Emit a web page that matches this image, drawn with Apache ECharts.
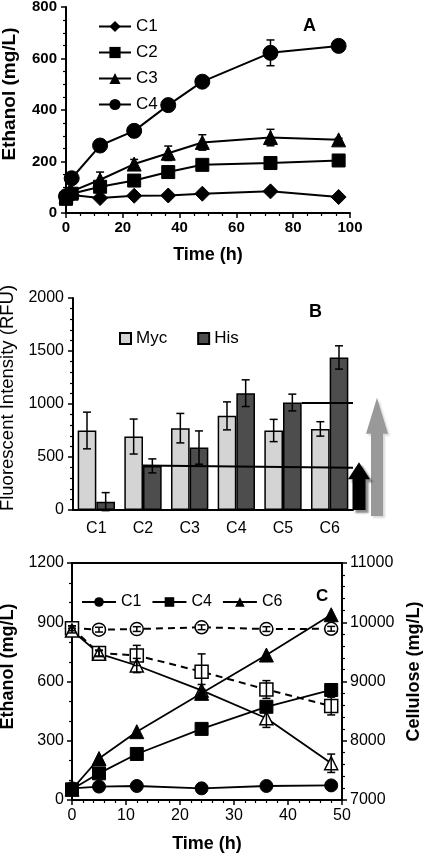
<!DOCTYPE html>
<html><head><meta charset="utf-8">
<script src="https://cdn.jsdelivr.net/npm/echarts@6/dist/echarts.min.js"></script>
<style>html,body{margin:0;padding:0;background:#fff}#c{width:425px;height:855px}</style>
</head><body><div id="c"></div>
<script>
// ---------- Panel A data ----------
const timeA = [0, 2, 12, 24, 36, 48, 72, 96];
const aC1 = [65, 70, 58, 67, 68, 75, 84, 62];
const aC2 = [55, 75, 102, 126, 159, 187, 194, 204];
const aC3 = [65, 84, 129, 190, 232, 274, 293, 284];
const aC4 = [65, 135, 262, 319, 419, 510, 622, 649];
const aC1err = [0, 3, 5, 5, 5, 5, 6, 5];
const aC2err = [0, 5, 10, 8, 8, 8, 8, 6];
const aC3err = [0, 10, 30, 18, 28, 30, 32, 6];
const aC4err = [0, 18, 22, 22, 20, 15, 50, 6];
// ---------- Panel B data ----------
const catsB = ['C1', 'C2', 'C3', 'C4', 'C5', 'C6'];
const myc = [750, 693, 772, 888, 750, 765];
const mycErr = [173, 165, 139, 132, 105, 68];
const his = [79, 416, 589, 1102, 1014, 1439];
const hisErr = [85, 66, 157, 126, 79, 110];
const refLineVals = [[420, 398], [1010, 1010]];
const arrowTips = [450, 1060];
// ---------- Panel C data ----------
const timeC = [0, 5, 12, 24, 36, 48];
const ethC1 = [59, 68, 71, 59, 71, 74];
const ethC4 = [54, 135, 233, 360, 472, 557];
const ethC6 = [54, 210, 346, 540, 734, 938];
const celC1 = [9900, 9875, 9885, 9915, 9885, 9890];
const celC4 = [9900, 9480, 9440, 9166, 8865, 8586];
const celC6 = [9860, 9470, 9270, 8850, 8380, 7620];
const celC1err = [40, 40, 40, 40, 40, 40];
const celC4err = [40, 50, 170, 300, 150, 150];
const celC6err = [40, 50, 120, 100, 155, 155];

const FF = 'Liberation Sans, Arial, sans-serif';
const pairs = (xs, ys) => xs.map((x, i) => [x, ys[i]]);
const errData = (xs, ys, es, side) => xs.map((x, i) => [x, ys[i] - es[i], ys[i] + es[i], side || 0]);
const plain = v => String(v);

function errItem(params, api) {
  const x = api.value(0), lo = api.value(1), hi = api.value(2), side = api.value(3) || 0;
  let off = 0;
  if (side) off = side * api.size([1, 0])[0] * 0.2;
  const a = api.coord([x, hi]), b = api.coord([x, lo]);
  const cx = a[0] + off, hw = 4;
  const st = { stroke: '#000', lineWidth: 1.5 };
  return { type: 'group', children: [
    { type: 'line', shape: { x1: cx, y1: a[1], x2: cx, y2: b[1] }, style: st },
    { type: 'line', shape: { x1: cx - hw, y1: a[1], x2: cx + hw, y2: a[1] }, style: st },
    { type: 'line', shape: { x1: cx - hw, y1: b[1], x2: cx + hw, y2: b[1] }, style: st }
  ] };
}

const axLine = { show: true, lineStyle: { color: '#000', width: 2 } };
const tick = { show: true, length: 5, lineStyle: { color: '#000', width: 1.5 } };
const mtick = (n) => ({ show: true, splitNumber: n, length: 3, lineStyle: { color: '#000', width: 1.2 } });

function lineSeries(name, xi, yi, data, symbol, size, opts) {
  return Object.assign({
    type: 'line', name: name, xAxisIndex: xi, yAxisIndex: yi, data: data,
    symbol: symbol, symbolSize: size, showSymbol: true,
    lineStyle: { color: '#000', width: 2 },
    itemStyle: { color: '#000', borderColor: '#000' }, z: 3, animation: false
  }, opts || {});
}
function errSeries(xi, yi, data) {
  return { type: 'custom', xAxisIndex: xi, yAxisIndex: yi, data: data, renderItem: errItem,
    encode: { x: 0, y: [1, 2] }, z: 4, silent: true, animation: false };
}

const openStyle = { color: '#fff', borderColor: '#000', borderWidth: 1.5 };
const gridBase = { containLabel: false, outerBoundsMode: 'none' };

const option = {
  animation: false,
  textStyle: { fontFamily: FF },
  title: [
    { text: 'A', left: 298, top: 12, textStyle: { fontFamily: FF, fontWeight: 'bold', fontSize: 18, color: '#000' } },
    { text: 'B', left: 304, top: 298, textStyle: { fontFamily: FF, fontWeight: 'bold', fontSize: 18, color: '#000' } },
    { text: 'C', left: 311, top: 583, textStyle: { fontFamily: FF, fontWeight: 'bold', fontSize: 17, color: '#000' } }
  ],
  legend: [
    { data: ['A-C1', 'A-C2', 'A-C3', 'A-C4'], orient: 'vertical', left: 93, top: 13, itemWidth: 32, itemHeight: 14, itemGap: 9,
      formatter: n => n.split('-')[1], textStyle: { fontFamily: FF, fontSize: 17, color: '#000', lineHeight: 17 } },
    { data: ['Myc', 'His'], left: 114, top: 325, icon: 'rect', itemWidth: 11, itemHeight: 11, itemGap: 30,
      textStyle: { fontFamily: FF, fontSize: 17, color: '#000' } },
    { data: ['C-C1', 'C-C4', 'C-C6'], left: 76, top: 589, itemWidth: 34, itemHeight: 12, itemGap: 10,
      formatter: n => n.split('-')[1], textStyle: { fontFamily: FF, fontSize: 16, color: '#000' } }
  ],
  grid: [
    Object.assign({ left: 66, top: 7, width: 284, height: 206 }, gridBase),
    Object.assign({ left: 73, top: 298, width: 280, height: 212 }, gridBase),
    Object.assign({ left: 72, top: 563, width: 270, height: 237, show: true, borderColor: '#000', borderWidth: 2, backgroundColor: 'transparent' }, gridBase)
  ],
  xAxis: [
    { type: 'value', gridIndex: 0, min: 0, max: 100, interval: 20, axisLine: axLine, axisTick: tick, minorTick: mtick(4),
      splitLine: { show: false }, axisLabel: { color: '#000', fontSize: 15, fontWeight: 'bold', margin: 7, fontFamily: FF, formatter: plain },
      name: 'Time (h)', nameLocation: 'middle', nameGap: 33, nameTextStyle: { color: '#000', fontSize: 18, fontWeight: 'bold', fontFamily: FF } },
    { type: 'category', gridIndex: 1, data: catsB, axisLine: axLine, axisTick: { show: false },
      axisLabel: { color: '#000', fontSize: 16, margin: 11, fontFamily: FF } },
    { type: 'value', gridIndex: 2, min: 0, max: 50, interval: 10, axisLine: axLine, axisTick: tick, minorTick: mtick(5),
      splitLine: { show: false }, axisLabel: { color: '#000', fontSize: 16, margin: 8, fontFamily: FF, formatter: plain },
      name: 'Time (h)', nameLocation: 'middle', nameGap: 35, nameTextStyle: { color: '#000', fontSize: 18, fontWeight: 'bold', fontFamily: FF } }
  ],
  yAxis: [
    { type: 'value', gridIndex: 0, min: 0, max: 800, interval: 200, axisLine: axLine, axisTick: tick, minorTick: mtick(4),
      splitLine: { show: false }, axisLabel: { color: '#000', fontSize: 15, fontWeight: 'bold', margin: 9, fontFamily: FF, formatter: plain },
      name: 'Ethanol (mg/L)', nameLocation: 'middle', nameGap: 47, nameRotate: 90,
      nameTextStyle: { color: '#000', fontSize: 19, fontWeight: 'bold', fontFamily: FF, padding: [0, 0, 0, 32] } },
    { type: 'value', gridIndex: 1, min: 0, max: 2000, interval: 500, axisLine: axLine, axisTick: tick, minorTick: mtick(5),
      splitLine: { show: false }, axisLabel: { color: '#000', fontSize: 16, margin: 9, fontFamily: FF, formatter: plain },
      name: 'Fluorescent Intensity (RFU)', nameLocation: 'middle', nameGap: 52, nameRotate: 90,
      nameTextStyle: { color: '#000', fontSize: 18.5, fontFamily: FF, padding: [0, 0, 0, 12] } },
    { type: 'value', gridIndex: 2, min: 0, max: 1200, interval: 300, axisLine: axLine, axisTick: tick, minorTick: mtick(3),
      splitLine: { show: false }, axisLabel: { color: '#000', fontSize: 16, margin: 8, fontFamily: FF, formatter: plain },
      name: 'Ethanol (mg/L)', nameLocation: 'middle', nameGap: 52, nameRotate: 90,
      nameTextStyle: { color: '#000', fontSize: 18, fontWeight: 'bold', fontFamily: FF, padding: [0, 0, 0, 30] } },
    { type: 'value', gridIndex: 2, position: 'right', min: 7000, max: 11000, interval: 1000, axisLine: axLine, axisTick: tick, minorTick: mtick(5),
      splitLine: { show: false }, axisLabel: { color: '#000', fontSize: 16, margin: 8, fontFamily: FF, formatter: plain },
      name: 'Cellulose (mg/L)', nameLocation: 'middle', nameGap: 62, nameRotate: 90,
      nameTextStyle: { color: '#000', fontSize: 18, fontWeight: 'bold', fontFamily: FF, padding: [0, 0, 0, 20] } }
  ],
  series: [
    // Panel A
    errSeries(0, 0, errData(timeA, aC1, aC1err)),
    errSeries(0, 0, errData(timeA, aC2, aC2err)),
    errSeries(0, 0, errData(timeA, aC3, aC3err)),
    errSeries(0, 0, errData(timeA, aC4, aC4err)),
    lineSeries('A-C1', 0, 0, pairs(timeA, aC1), 'diamond', 15),
    lineSeries('A-C2', 0, 0, pairs(timeA, aC2), 'rect', 13),
    lineSeries('A-C3', 0, 0, pairs(timeA, aC3), 'triangle', 14),
    lineSeries('A-C4', 0, 0, pairs(timeA, aC4), 'circle', 15),
    // Panel B
    { type: 'bar', name: 'Myc', xAxisIndex: 1, yAxisIndex: 1, data: myc, barWidth: '40%', barGap: '0%',
      itemStyle: { color: '#d4d4d4', borderColor: '#000', borderWidth: 1.5 }, z: 2 },
    { type: 'bar', name: 'His', xAxisIndex: 1, yAxisIndex: 1, data: his, barWidth: '40%', barGap: '0%',
      itemStyle: { color: '#4d4d4d', borderColor: '#000', borderWidth: 1.5 }, z: 2 },
    errSeries(1, 1, errData(catsB, myc, mycErr, -1)),
    errSeries(1, 1, errData(catsB, his, hisErr, 1)),
    // Panel C cellulose (open markers)
    errSeries(2, 3, errData(timeC, celC1, celC1err)),
    errSeries(2, 3, errData(timeC, celC4, celC4err)),
    errSeries(2, 3, errData(timeC, celC6, celC6err)),
    lineSeries('cel-C1', 2, 3, pairs(timeC, celC1), 'circle', 13, { lineStyle: { color: '#000', width: 2, type: [7, 5] }, itemStyle: openStyle }),
    lineSeries('cel-C4', 2, 3, pairs(timeC, celC4), 'rect', 13, { lineStyle: { color: '#000', width: 2, type: [7, 5] }, itemStyle: openStyle }),
    lineSeries('cel-C6', 2, 3, pairs(timeC, celC6), 'triangle', 13, { lineStyle: { color: '#000', width: 1.8 }, itemStyle: openStyle }),
    // Panel C ethanol (filled markers)
    lineSeries('C-C1', 2, 2, pairs(timeC, ethC1), 'circle', 13, { lineStyle: { color: '#000', width: 1.8 }, z: 5 }),
    lineSeries('C-C4', 2, 2, pairs(timeC, ethC4), 'rect', 13, { lineStyle: { color: '#000', width: 1.8 }, z: 5 }),
    lineSeries('C-C6', 2, 2, pairs(timeC, ethC6), 'triangle', 14, { lineStyle: { color: '#000', width: 1.8 }, z: 5 })
  ]
};

const chart = echarts.init(document.getElementById('c'), null, { renderer: 'canvas' });
chart.setOption(option);

// Panel B annotations (reference lines and arrows), positioned through the axes
const cx = c => chart.convertToPixel({ xAxisIndex: 1 }, c);
const yPx = v => chart.convertToPixel({ yAxisIndex: 1 }, v);
const band = cx('C2') - cx('C1');
const xRight = cx('C6') + band / 2;
const y0 = yPx(0);
function arrow(xc, yTip, yBase, sw, hw, hh) {
  return [[xc - sw / 2, yBase], [xc - sw / 2, yTip + hh], [xc - hw / 2, yTip + hh], [xc, yTip],
          [xc + hw / 2, yTip + hh], [xc + sw / 2, yTip + hh], [xc + sw / 2, yBase]];
}
const lst = { stroke: '#000', lineWidth: 2 };
chart.setOption({
  graphic: [
    { type: 'line', z: 10, shape: { x1: cx('C2'), y1: yPx(refLineVals[0][0]), x2: xRight, y2: yPx(refLineVals[0][1]) }, style: lst },
    { type: 'line', z: 10, shape: { x1: cx('C5') + band * 0.4, y1: yPx(refLineVals[1][0]), x2: xRight, y2: yPx(refLineVals[1][1]) }, style: lst },
    { type: 'polygon', z: 10, shape: { points: arrow(xRight + 24, yPx(arrowTips[1]), y0 + 6, 12, 22, 36) },
      style: { fill: '#999', shadowColor: 'rgba(0,0,0,0.15)', shadowOffsetX: 2, shadowOffsetY: 2, shadowBlur: 2 } },
    { type: 'polygon', z: 11, shape: { points: arrow(xRight + 6, yPx(arrowTips[0]), y0, 13, 22, 17) },
      style: { fill: '#000', shadowColor: 'rgba(0,0,0,0.45)', shadowOffsetX: 3, shadowOffsetY: 3, shadowBlur: 2 } }
  ]
});
</script></body></html>
